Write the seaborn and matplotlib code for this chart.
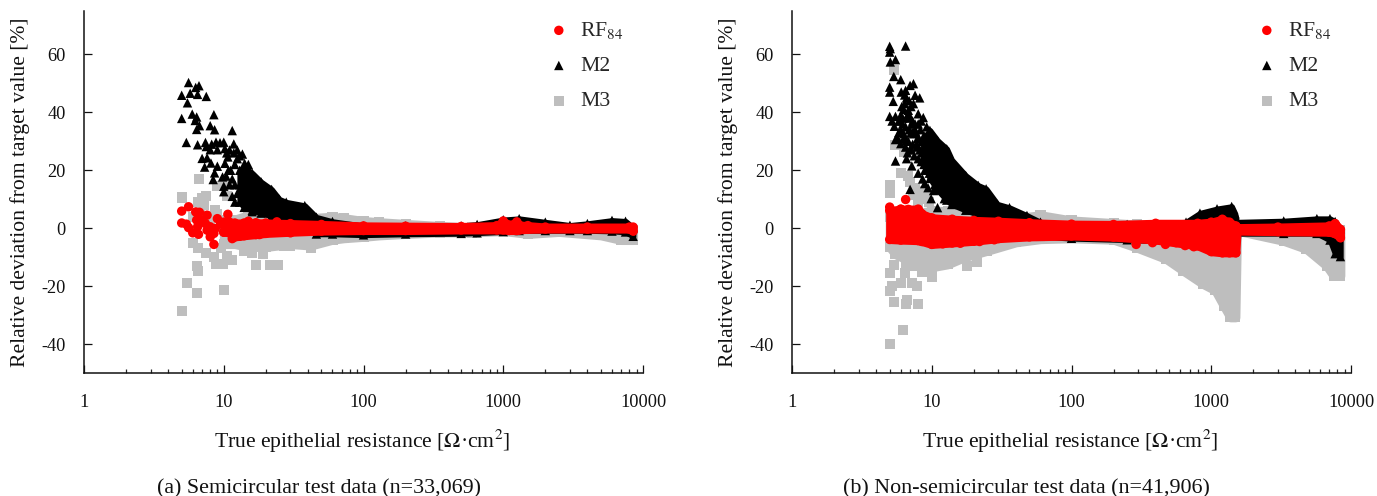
import matplotlib
matplotlib.use("Agg")
import matplotlib.pyplot as plt
import pandas as pd
import seaborn as sns
from matplotlib.ticker import FixedLocator, LogLocator, NullFormatter

sns.set_style("ticks")
plt.rcParams["font.family"] = ["Liberation Serif", "DejaVu Serif"]
plt.rcParams["mathtext.fontset"] = "stix"
plt.rcParams["axes.unicode_minus"] = False

W, H = 1377, 496
RED, BLACK, GREY = "#ff0000", "#000000", "#bebebe"

# ---------- panel (a): sparse points at low resistance ----------
a_m2_x = [5.6,5.0,5.75,6.3,6.65,6.5,7.5,5.5,5.95,6.4,8.5,5.0,6.25,6.7,6.4,8.0,8.6,5.4,11.5,6.5,7.4,7.5,8.8,10,11.8,8,9,10.2,13.6,7,7.6,10.7,8.1,7.3,9,10.2,14.1,8.6,9.8,8.4,10,10,16,8.2,9.4,10.5,11,12.5,13,11.2,11.5,12,12.5,12,11,12.5,11.5,12,13,10.8,10.4,11.8,14.5,15]
a_m2_y = [50.3,45.9,46.6,48.6,49.2,46.2,45.5,43.3,39.4,38.4,39.2,37.9,37.2,35.4,34.1,35.4,34,29.6,33.7,28.8,29.6,28.2,29.7,29.7,29.1,27.1,27.1,27.5,25.6,24.1,24.3,24.6,22.5,21.1,21.4,22.4,22.4,19.1,17.7,16.8,14.5,12.6,5.7,29,29.5,26,27,27,25,20,17,22,24,15,15,12,11,9,15,20,18,26,21,22]
a_m3_x = [5,6.6,7,7.5,6.5,9,10,10.5,8.7,5,5.5,6.4,10,6.4,6.5,8.8,9.8,11.5,10.5,17,21.5,24.5,6,6.5,7.5,8.5,14,16,19,27,30,42,13,20,6,6.8,7.2,8,9,9.5]
a_m3_y = [10.6,16.9,10.5,11,9,14.5,15,11,6.2,-28.6,-18.9,-22.5,-21.2,-13,-14.7,-12.3,-12.3,-11,-9.5,-12.8,-12.8,-12.8,-5,-7,-8.5,-10,-8,-8.5,-9,-6,-6,-7,-5.5,-6,4,6,8,3,5,-7]
a_rf_x = [5,5.6,6.3,6.7,5,5.4,5.6,6,6.6,7.6,6.4,7,7.4,8,8.5,8,8.5,9,8.7,9.5,10.7,10,11.5,6.5,7.6,13,15,18,24,30]
a_rf_y = [5.9,7.4,5.6,5.5,1.8,1.4,0.2,-1.6,-2.1,4.5,2.8,2.8,1.6,0.5,-1.8,-3,-5.6,3.3,-0.1,1.6,4.8,-1.3,-3.6,0.5,-0.7,-2.8,2.4,-2.2,2.2,-1.6]

# ---------- panel (a): dense bands (marker centres) ----------
a_m3_band_x = [10,12,15,20,30,42,60,72,100,130,200,350,600,1000,1500,2500,5000,7000,8500]
a_m3_band_up = [3,3,4.5,4.5,3.5,3.5,4,3.5,2.5,2.1,1.5,0.8,0.3,0,0,-0.5,-0.5,-0.5,-0.5]
a_m3_band_lo = [-5.5,-5.5,-6.5,-6.5,-5.5,-6,-4,-3.5,-3,-2.5,-2,-1.5,-1.5,-1,-2,-1.3,-2.5,-4.1,-4.1]
a_m2_band_x = [13,14,16,18.5,22,25,28,38,46,60,100,200,500,650,1000,1300,2000,3000,4000,6000,7500,8500]
a_m2_band_up = [20,21,19,16,13.4,10,9,7.8,3.8,2.3,0.8,0.8,0.8,1.3,2.9,3.3,2.1,1,1.6,2.7,2.4,0.2]
a_m2_band_lo = [9,7.2,6.2,5.2,4.2,3.2,2.2,1.2,-2,-2,-2.3,-2,-1.8,-1.6,-1.2,-0.8,-0.8,-0.8,-0.8,-1,-1.3,-2.8]
a_rf_band_x = [10,11,12,14,17,20,30,50,100,200,500,900,1000,1100,1250,1300,1500,2000,4000,8000,8500]
a_rf_band_up = [2.1,2.1,1.8,1.8,1.9,1.8,1.6,1.3,0.8,0.7,0.6,0.9,2.5,1.1,2.2,1.1,0.9,0.4,0.4,0.4,0.4]
a_rf_band_lo = [-1.4,-1.6,-3,-2.6,-2.2,-1.8,-1.4,-1,-0.8,-0.8,-0.6,-0.6,-0.6,-0.8,-0.8,-0.6,-0.4,-0.3,-0.3,-0.3,-1.0]

# ---------- panel (b): sparse points at low resistance ----------
b_m2_x = [5,5.05,5,6.5,5.05,5.5,5.35,6,5,5,7.4,7,6.05,6.5,7.6,8.2,5.3,5,5.5,6,5.4,6,5.5,6,5.5,6.6,7.2,8,8.9,7,9.9,11,12.3,10.3,7.1,6.3,6.6,6.4,6.8,7.4,8,8.7,7.2,7.4,7.8,6.2,5.8,6.9,7.6,6.1,5.7,6.7,7.1,7.9,5.2,
          6.4,6.6,6.9,7.1,6.3,6.7,7,7.3,7.6,8,8.3,6.2,5.9,6.5,6.9,7.3,7.7,8.1,8.5,5.8,6.3,6.8,7.3,7.8,8.2,8.5,6.5,7,7.5,8,8.4,8.8,9,9.3,8.8,8.4,9.2,8.6,9.4,8.9,10.5,9.6]
b_m2_y = [62.8,62,60.8,62.9,57.4,58.2,52.4,51.3,48.7,47,49.9,49.3,47,47.6,45.9,45,43.8,38.6,38.6,39,35.2,34,30.6,29.2,23.2,24,21.5,19,15.4,13.4,10.2,7.1,10.2,13,27.5,32.6,30.3,43,40.7,43,39.5,38.2,36,32.6,29.2,36,37,38,34,42,31,26,33,31,37,
          46,45,44,42,41,39,38.5,37,36,36,34,38,37,35,34,33,33,31,30,33,31,30,29,28,27,26,28,27,25,24,23,22,27,30,32,37,35,17,14,20,15,19]
b_m3_x = [5,6,5.35,5.5,6.3,5,5.05,6.2,5,5,5.4,6.6,6.5,8,5.4,5.2,6,6.4,7.2,7.9,10,18,21,7,7.6,8.5,9.5,6.8,8.2,7.3,9,8,5.5,6.5,7.5,8.5]
b_m3_y = [14.8,19.2,54.5,28.6,26.3,12,-40.1,-35,-15.3,-21.7,-25.6,-24.8,-26.3,-26.3,-12.8,-20,-19,-15.6,-19,-20,-16.8,-13,-11.8,16,14,13,9,18,10,11.5,11,8.5,-9,-12,-13,-15]
b_rf_x = [6.5,5,5.1,6,6.3,6.8,8,9,290,380,470,560,650,750,12,16,22,28]
b_rf_y = [9.9,7.3,6,6.5,6,6.5,5,4,-5.6,-5,-5.6,-5,-6,-6.4,-5.4,-5.2,-4.6,-4]

# ---------- panel (b): dense bands (marker centres) ----------
b_m3_band_x = [5,5.5,7,10,13,17,25,40,60,100,200,292,478,630,875,1070,1230,1370,1490,1530,3300,4800,6700,7500,8400]
b_m3_band_up = [4,4,5,6,6,4.5,3.5,3.5,4.5,2.7,1.8,1.3,1,0.5,0.5,0.5,0.5,0.5,0.5,0.5,0,-0.5,-0.5,-0.5,-0.5]
b_m3_band_lo = [-6.5,-9,-11.5,-13.5,-12.5,-10.1,-7.8,-4.9,-3.8,-3.5,-4,-6.7,-10.7,-14.7,-19.3,-21.5,-26.8,-30.8,-30.8,-0.9,-4.4,-7.2,-13,-16.4,-16.4]
b_m2_band_x = [8.7,9.7,11,12.8,13.9,17.5,21.5,24.5,29.5,36,48,60,100,250,660,830,1100,1400,1480,1520,3300,5700,7070,7700,8400]
b_m2_band_up = [31,33.8,30.3,27.4,23.6,18.2,14.8,13.6,8.3,7.1,4.4,2.1,1.3,1.3,2.1,5.2,6.7,7.5,5,2.1,2.5,3.3,3.3,2.3,-0.2]
b_m2_band_lo = [24,17.2,13.2,9.7,8.2,6.2,4.7,3.2,2.2,1.2,-2.3,-2.8,-3.5,-4,-4.8,-4.8,-4.8,-4.8,-4.8,-1.8,-1.8,-1.8,-4.1,-8.8,-9.8]
b_rf_band_x = [5,6,8,8.5,10,14,20,30,50,100,200,400,800,1000,1200,1350,1500,1530,3000,7000,7700,8400]
b_rf_band_up = [6.1,6.6,6.6,5,3.6,3.1,2.7,2.4,1.9,1.4,1.3,1.7,1.7,2.1,3.1,2.1,0.8,0.2,0.4,0.8,1.6,-0.4]
b_rf_band_lo = [-3.9,-4.1,-4.3,-4.6,-5.6,-5.1,-4.5,-3.6,-3,-2.7,-3.1,-4.1,-6.1,-8.1,-8.5,-8.5,-8.5,-1,-1.2,-1.4,-1.9,-3.3]

# ---------- text ----------
y_ticks = [-40, -20, 0, 20, 40, 60]
x_ticks = [1, 10, 100, 1000, 10000]
x_tick_labels = ["1", "10", "100", "1000", "10000"]
x_label = "True epithelial resistance [$\\Omega$·cm$^2$]"
y_label = "Relative deviation from target value [%]"
captions = ["(a) Semicircular test data (n=33,069)", "(b) Non-semicircular test data (n=41,906)"]
series_labels = ["RF$_{84}$", "M2", "M3"]

STYLE = {"M3": (GREY, "s", 52), "M2": (BLACK, "^", 46), "RF": (RED, "o", 46)}
LW = {"M3": 6.4, "M2": 4.0, "RF": 5.8}
TXT = "#111111"


def draw(ax, key, px, py, bx, up, lo, label, z):
    c, m, s = STYLE[key]
    ax.fill_between(bx, lo, up, color=c, lw=LW[key], joinstyle="round", zorder=z)
    df = pd.DataFrame({"x": list(px) + list(bx) + list(bx),
                       "y": list(py) + list(up) + list(lo)})
    sns.scatterplot(data=df, x="x", y="y", ax=ax, color=c, marker=m, s=s,
                    linewidth=0, edgecolor="none", zorder=z, label=label, legend=True)


def panel(rect, m3, m2, rf, caption):
    ax = fig.add_axes(rect)
    draw(ax, "M3", *m3, series_labels[2], 2)
    draw(ax, "M2", *m2, series_labels[1], 3)
    draw(ax, "RF", *rf, series_labels[0], 4)
    ax.set_xscale("log")
    ax.set_xlim(1, 10000)
    ax.set_ylim(-50, 75)
    ax.xaxis.set_major_locator(FixedLocator(x_ticks))
    ax.set_xticklabels(x_tick_labels)
    ax.xaxis.set_minor_locator(LogLocator(base=10, subs=range(2, 10), numticks=12))
    ax.xaxis.set_minor_formatter(NullFormatter())
    ax.set_yticks(y_ticks)
    ax.tick_params(axis="y", which="major", direction="in", length=6, width=0.9,
                   labelsize=13.2, colors=TXT, pad=13)
    ax.tick_params(axis="x", which="major", direction="in", length=6, width=0.9,
                   labelsize=13.2, colors=TXT, pad=15)
    ax.tick_params(axis="x", which="minor", direction="in", length=3, width=0.9)
    sns.despine(ax=ax)
    for s in ("left", "bottom"):
        ax.spines[s].set_linewidth(1.1)
        ax.spines[s].set_color(TXT)
    ax.set_xlabel(x_label, fontsize=15.6, color=TXT, va="center")
    ax.set_ylabel(y_label, fontsize=15.6, color=TXT, va="center")
    ax.xaxis.set_label_coords(0.497, -0.188)
    ax.yaxis.set_label_coords(-0.1145, 0.5)
    h, l = ax.get_legend_handles_labels()
    order = [2, 1, 0]
    ax.legend([h[i] for i in order], [l[i] for i in order], frameon=False, fontsize=15.6,
              loc="upper left", bbox_to_anchor=(0.83, 0.975), labelspacing=0.69,
              handlelength=1, handletextpad=0.47, borderaxespad=0, borderpad=0, scatterpoints=1)
    ax.text(0.42, -0.32, caption, transform=ax.transAxes, ha="center", va="center",
            fontsize=15.8, color=TXT)
    return ax


fig = plt.figure(figsize=(W / 100, H / 100), dpi=100)
top = 11
bot = 373
rect_a = [84 / W, (H - bot) / H, (643 - 84) / W, (bot - top) / H]
rect_b = [792 / W, (H - bot) / H, (1351 - 792) / W, (bot - top) / H]
panel(rect_a,
      (a_m3_x, a_m3_y, a_m3_band_x, a_m3_band_up, a_m3_band_lo),
      (a_m2_x, a_m2_y, a_m2_band_x, a_m2_band_up, a_m2_band_lo),
      (a_rf_x, a_rf_y, a_rf_band_x, a_rf_band_up, a_rf_band_lo),
      captions[0])
panel(rect_b,
      (b_m3_x, b_m3_y, b_m3_band_x, b_m3_band_up, b_m3_band_lo),
      (b_m2_x, b_m2_y, b_m2_band_x, b_m2_band_up, b_m2_band_lo),
      (b_rf_x, b_rf_y, b_rf_band_x, b_rf_band_up, b_rf_band_lo),
      captions[1])
fig.savefig("out.png", dpi=100)
